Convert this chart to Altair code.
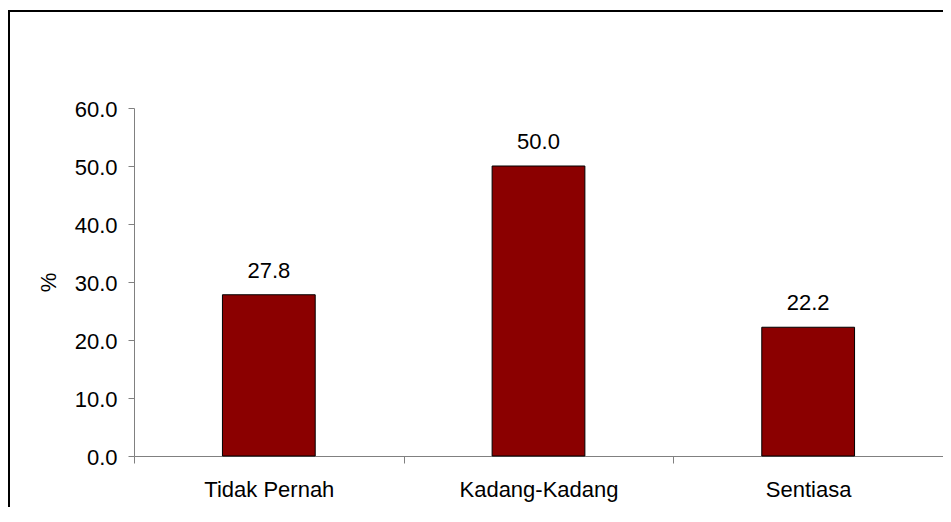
import altair as alt
import pandas as pd

categories = ["Tidak Pernah", "Kadang-Kadang", "Sentiasa"]
values = [27.8, 50.0, 22.2]
y_ticks = [0, 10, 20, 30, 40, 50, 60]

df = pd.DataFrame({"kategori": categories, "peratus": values, "idx": list(range(len(categories)))})

FONT = "Liberation Sans"
AXIS_GREY = "#808080"

# chart frame (view) size: the frame's right and bottom edges fall outside the picture
VIEW_W = 934
VIEW_H = 496

label_expr = " : ".join(
    f"datum.value == {i + 0.5} ? '{c}'" for i, c in enumerate(categories)
) + " : ''"

x_scale = alt.Scale(domain=[0, len(categories)], range=[125, 934], nice=False, zero=False)
y_scale = alt.Scale(domain=[0, 60], range=[445, 97], nice=False)

x_axis = alt.Axis(
    values=[0, 0.5, 1, 1.5, 2, 2.5, 3],
    labelExpr=label_expr,
    tickOpacity={"condition": {"test": "datum.value % 1 !== 0", "value": 0}, "value": 1},
    grid=False,
    domainColor=AXIS_GREY,
    tickColor=AXIS_GREY,
    tickSize=7,
    labelBaseline="alphabetic",
    labelPadding=33,
    labelFontSize=22,
    labelFont=FONT,
    labelColor="black",
    labelAngle=0,
    labelOverlap=False,
    labelFlush=False,
    offset=-(VIEW_H - 445),
    title=None,
)

y_axis = alt.Axis(
    values=y_ticks,
    format=".1f",
    grid=False,
    domainColor=AXIS_GREY,
    tickColor=AXIS_GREY,
    tickSize=6,
    labelPadding=11,
    labelFontSize=22,
    labelFont=FONT,
    labelColor="black",
    labelBaseline="alphabetic",
    labelOffset=8,
    offset=-125,
    title="%",
    titleFont=FONT,
    titleFontSize=22,
    titleFontWeight="normal",
    titleColor="black",
    titleAngle=270,
    titleBaseline="alphabetic",
    titleAlign="center",
    titleX=-79,
    titleY=271,
)

base = alt.Chart(df).transform_calculate(
    pos="datum.idx + 0.5",
    x0="datum.idx + 0.5 - 0.172",
    x1="datum.idx + 0.5 + 0.172",
)

bars = base.mark_bar(color="#8B0000", stroke="black", strokeWidth=1).encode(
    x=alt.X("x0:Q", scale=x_scale, axis=x_axis),
    x2="x1:Q",
    y=alt.Y("peratus:Q", scale=y_scale, axis=y_axis),
    y2=alt.datum(0),
)

labels = base.mark_text(
    baseline="alphabetic", dy=-17, fontSize=22, font=FONT, color="black"
).encode(
    x=alt.X("pos:Q", scale=x_scale, axis=x_axis),
    y=alt.Y("peratus:Q", scale=y_scale, axis=y_axis),
    text=alt.Text("peratus:Q", format=".1f"),
)

chart = (
    alt.layer(bars, labels)
    .properties(
        width=VIEW_W,
        height=VIEW_H,
        padding={"left": 1, "top": 3, "right": 0, "bottom": 0},
        autosize=alt.AutoSizeParams(type="none"),
    )
    .configure_view(
        stroke="black",
        strokeWidth=2,
        strokeDash=[VIEW_W, VIEW_H + VIEW_W, VIEW_H],
    )
)

chart.save("out.html", embed_options={"renderer": "svg", "actions": False})
